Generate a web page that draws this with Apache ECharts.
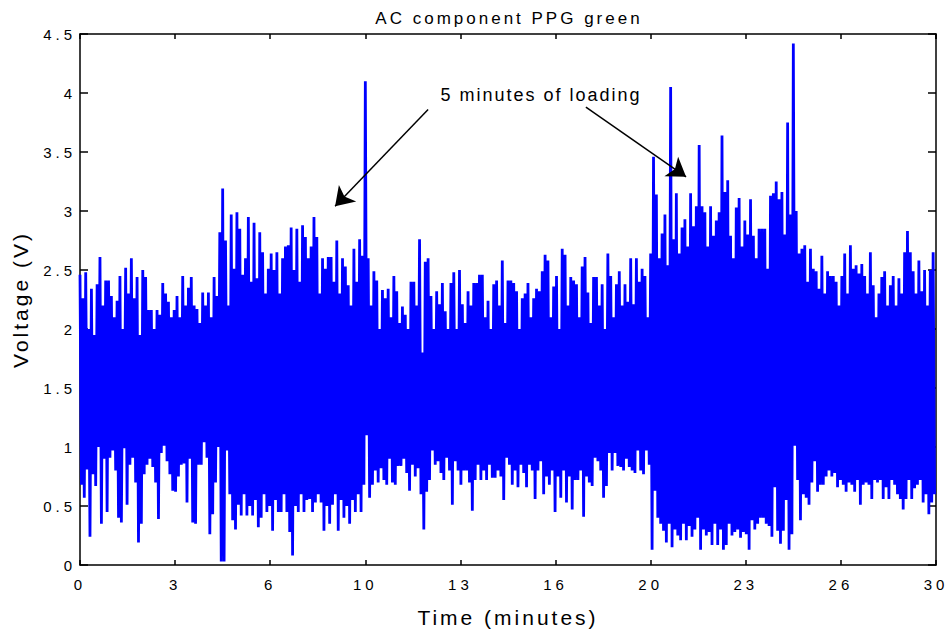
<!DOCTYPE html>
<html>
<head>
<meta charset="utf-8">
<script src="https://cdn.jsdelivr.net/npm/echarts@6/dist/echarts.min.js"></script>
<style>
html, body { margin: 0; padding: 0; background: #fff; }
#chart { width: 951px; height: 633px; }
#chart text[style*="15px"] { letter-spacing: 4px; }
#chart text[style*="17px"] { letter-spacing: 3px; }
#chart text[style*="18px"] { letter-spacing: 2px; }
#chart text[style*="21px"] { letter-spacing: 3px; }
</style>
</head>
<body>
<div id="chart"></div>
<script>
const TITLE = 'AC component PPG green';
const X_NAME = 'Time (minutes)';
const Y_NAME = 'Voltage (V)';
const NOTE = '5 minutes of loading';
const X_TICK_LABELS = ['0', '3', '6', '10', '13', '16', '20', '23', '26', '30'];
const SAMPLE_STEP = 0.1; // minutes between successive peak samples

// upper swing of each 0.1-minute sample (V)
const PEAKS = [
  2.46,2.26,2.48,2.00,2.34,1.95,2.38,2.61,2.20,2.41,
  2.41,2.28,2.10,2.24,2.45,2.00,2.52,2.30,2.60,2.26,
  2.44,1.95,2.50,2.44,2.16,2.16,2.00,2.16,2.12,2.39,
  2.30,2.23,2.10,2.16,2.28,2.10,2.45,2.20,2.35,2.44,
  2.20,2.17,2.05,2.31,2.20,2.31,2.10,2.44,2.28,2.82,
  3.19,2.75,2.20,2.97,2.51,2.99,2.85,2.46,2.60,2.95,
  2.40,2.90,2.43,2.82,2.65,2.30,2.51,2.64,2.50,2.65,
  2.30,2.60,2.70,2.71,2.86,2.50,2.85,2.40,2.88,2.78,
  2.60,2.70,2.95,2.78,2.30,2.60,2.51,2.61,2.61,2.40,
  2.75,2.30,2.60,2.53,2.37,2.20,2.68,2.40,2.76,2.62,
  4.10,2.60,2.20,2.49,2.41,2.00,2.33,2.26,2.34,2.10,
  2.45,2.32,2.05,2.19,2.12,2.00,2.40,2.40,2.20,2.76,
  1.80,2.57,2.60,2.28,2.00,2.32,2.21,2.39,2.15,2.00,
  2.39,2.48,2.00,2.50,2.21,2.05,2.32,2.20,2.39,2.39,
  2.46,2.46,2.10,2.24,2.00,2.38,2.41,2.20,2.58,2.05,
  2.41,2.41,2.39,2.32,2.00,2.26,2.30,2.39,2.10,2.26,
  2.34,2.32,2.49,2.63,2.58,2.10,2.36,2.45,2.00,2.68,
  2.63,2.20,2.44,2.41,2.38,2.10,2.53,2.61,2.31,2.05,
  2.44,2.44,2.20,2.38,2.00,2.64,2.45,2.10,2.38,2.49,
  2.20,2.38,2.23,2.60,2.21,2.60,2.40,2.51,2.45,2.10,
  2.64,3.46,3.14,2.60,2.81,2.97,2.54,4.05,2.76,3.15,
  2.64,2.86,2.93,2.70,3.15,2.87,3.04,3.56,3.04,2.99,
  2.70,3.04,2.79,2.92,2.99,3.64,3.16,3.26,2.79,2.60,
  3.03,3.11,2.70,2.92,2.80,3.10,2.79,2.60,2.85,2.85,
  2.85,2.51,3.13,3.15,3.25,3.10,3.16,2.80,3.75,2.97,
  4.42,3.00,2.64,2.68,2.71,2.40,2.68,2.51,2.49,2.34,
  2.62,2.30,2.49,2.45,2.45,2.40,2.20,2.45,2.64,2.30,
  2.71,2.51,2.54,2.47,2.55,2.45,2.30,2.65,2.37,2.10,
  2.30,2.44,2.49,2.20,2.37,2.45,2.20,2.43,2.30,2.65,
  2.83,2.65,2.49,2.30,2.58,2.32,2.50,2.20,2.50,2.65
];

// lower swing following each peak (V)
const TROUGHS = [
  0.68,0.57,0.81,0.24,0.77,0.67,1.00,0.35,0.90,0.45,
  0.91,0.97,0.80,0.40,0.36,0.99,0.51,0.85,0.91,0.70,
  0.19,0.35,0.77,0.85,0.90,0.83,0.70,0.39,0.95,1.01,
  0.88,0.77,0.63,0.62,0.75,0.85,0.86,0.53,0.90,0.36,
  0.35,0.85,0.85,1.04,0.91,0.26,0.43,0.70,1.00,0.03,
  0.03,0.97,0.60,0.38,0.30,0.51,0.42,0.60,0.42,0.50,
  0.42,0.55,0.32,0.40,0.60,0.45,0.50,0.29,0.55,0.45,
  0.45,0.60,0.45,0.28,0.08,0.50,0.45,0.60,0.45,0.55,
  0.56,0.45,0.53,0.60,0.53,0.29,0.50,0.35,0.51,0.60,
  0.29,0.55,0.40,0.50,0.35,0.55,0.45,0.60,0.45,0.68,
  1.10,0.57,0.68,0.80,0.70,0.82,0.72,0.68,0.90,0.70,
  0.68,0.84,0.84,0.90,0.78,0.63,0.85,0.75,0.82,0.60,
  0.30,0.62,0.72,0.97,0.85,0.88,0.78,0.72,0.91,0.80,
  0.51,0.88,0.80,0.68,0.80,0.80,0.70,0.46,0.72,0.85,
  0.72,0.80,0.72,0.85,0.74,0.74,0.80,0.75,0.55,0.91,
  0.85,0.68,0.80,0.66,0.85,0.78,0.66,0.85,0.80,0.56,
  0.80,0.88,0.60,0.75,0.68,0.80,0.45,0.75,0.57,0.80,
  0.53,0.75,0.47,0.72,0.72,0.80,0.41,0.75,0.70,0.67,
  0.91,0.88,0.80,0.57,0.67,0.95,0.80,0.95,0.84,0.83,
  0.80,0.90,0.83,0.80,0.78,0.97,0.80,0.77,0.97,0.85,
  0.13,0.63,0.40,0.35,0.29,0.19,0.35,0.15,0.30,0.25,
  0.21,0.35,0.21,0.33,0.24,0.30,0.40,0.13,0.30,0.25,
  0.28,0.17,0.35,0.17,0.30,0.13,0.17,0.35,0.25,0.28,
  0.30,0.23,0.28,0.26,0.13,0.38,0.30,0.35,0.40,0.40,
  0.35,0.33,0.24,0.66,0.29,0.18,0.29,0.55,0.13,0.26,
  1.01,0.72,0.38,0.60,0.57,0.51,0.70,0.88,0.62,0.68,
  0.68,0.75,0.80,0.75,0.78,0.66,0.72,0.68,0.62,0.70,
  0.68,0.62,0.72,0.51,0.68,0.70,0.68,0.56,0.72,0.70,
  0.72,0.56,0.66,0.56,0.72,0.68,0.60,0.56,0.47,0.56,
  0.72,0.56,0.65,0.68,0.72,0.53,0.60,0.43,0.53,0.60
];

// build the signal from the sample arrays
const signal = [];
for (let i = 0; i < PEAKS.length; i++) {
  signal.push([i * SAMPLE_STEP, PEAKS[i]]);
  signal.push([i * SAMPLE_STEP + SAMPLE_STEP / 2, TROUGHS[i]]);
}

const FONT = '"Liberation Sans", Arial, Helvetica, sans-serif';
const X_INTERVAL = 10 / 3;
const axisLineStyle = { color: '#000', width: 1.5 };

function xAxisCfg(pos, showLabels) {
  return {
    type: 'value', position: pos, min: 0, max: 30, interval: X_INTERVAL,
    axisLine: { show: true, onZero: false, lineStyle: axisLineStyle },
    axisTick: { show: true, inside: true, length: 5, lineStyle: axisLineStyle },
    axisLabel: {
      show: showLabels, margin: 12, color: '#000', fontSize: 15, fontFamily: FONT,
      formatter: function (v) { return X_TICK_LABELS[Math.round(v / X_INTERVAL)]; }
    },
    splitLine: { show: false }
  };
}
function yAxisCfg(pos, showLabels) {
  return {
    type: 'value', position: pos, min: 0, max: 4.5, interval: 0.5,
    axisLine: { show: true, onZero: false, lineStyle: axisLineStyle },
    axisTick: { show: true, inside: true, length: 8, lineStyle: axisLineStyle },
    axisLabel: { show: showLabels, margin: 4, color: '#000', fontSize: 15, fontFamily: FONT },
    splitLine: { show: false }
  };
}

const xBottom = xAxisCfg('bottom', true);
xBottom.name = X_NAME;
xBottom.nameLocation = 'middle';
xBottom.nameGap = 42;
xBottom.nameTextStyle = { fontSize: 21, color: '#000', fontFamily: FONT };
const yLeft = yAxisCfg('left', true);
yLeft.name = Y_NAME;
yLeft.nameLocation = 'middle';
yLeft.nameGap = 49;
yLeft.nameRotate = 90;
yLeft.nameTextStyle = { fontSize: 21, color: '#000', fontFamily: FONT };

const chart = echarts.init(document.getElementById('chart'), null, { renderer: 'svg' });
chart.setOption({
  animation: false,
  backgroundColor: '#fff',
  title: {
    text: TITLE, left: 509, top: 10, textAlign: 'center', padding: 0,
    textStyle: { fontSize: 17, fontWeight: 'normal', color: '#000', fontFamily: FONT }
  },
  grid: { left: 80, right: 15, top: 34, bottom: 65, containLabel: false },
  xAxis: [xBottom, xAxisCfg('top', false)],
  yAxis: [yLeft, yAxisCfg('right', false)],
  graphic: [{
    type: 'text', x: 541, y: 95, silent: true,
    style: {
      text: NOTE, fill: '#000', font: '18px ' + FONT,
      textAlign: 'center', textVerticalAlign: 'middle', align: 'center', verticalAlign: 'middle'
    }
  }],
  series: [{
    type: 'line',
    xAxisIndex: 0, yAxisIndex: 0,
    data: signal,
    showSymbol: false, symbol: 'none',
    sampling: null,
    lineStyle: { color: '#0000ff', width: 2.8, join: 'bevel' },
    itemStyle: { color: '#0000ff' },
    emphasis: { disabled: true },
    silent: true,
    z: 2,
    markLine: {
      silent: true, animation: false,
      symbol: ['none', 'arrow'], symbolSize: 18,
      label: { show: false },
      lineStyle: { color: '#000', width: 1.5, type: 'solid' },
      itemStyle: { color: '#000' },
      emphasis: { disabled: true },
      data: [
        [{ coord: [12.2, 3.86] }, { coord: [8.94, 3.04] }],
        [{ coord: [17.73, 3.88] }, { coord: [21.24, 3.29] }]
      ]
    }
  }]
});
</script>
</body>
</html>
